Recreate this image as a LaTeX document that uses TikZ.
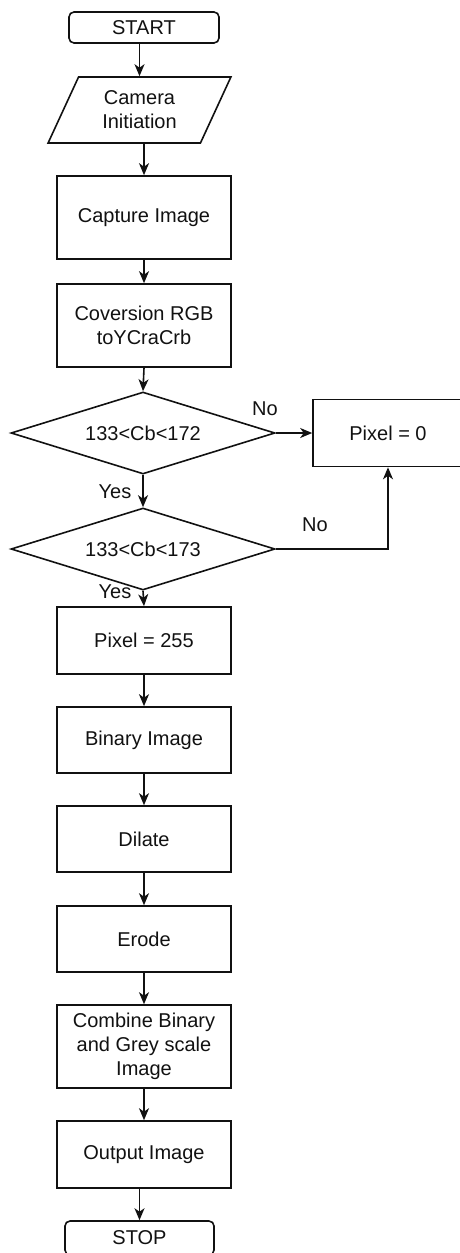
\documentclass[tikz,border=0pt]{standalone}
\usepackage{fontspec}
\setmainfont{Liberation Sans}
\usetikzlibrary{shapes.geometric,arrows.meta}
\definecolor{flowink}{RGB}{17,17,17}

\begin{document}
\begin{tikzpicture}[x=1pt,y=-1pt,>={Stealth[length=12pt,width=10pt,inset=3.5pt]},
  font=\fontsize{20}{24}\selectfont,line width=1.6pt,draw=flowink,text=flowink,
  termbox/.style={draw,rectangle,rounded corners=5pt,minimum width=150pt,minimum height=31pt,inner sep=0pt},
  iobox/.style={draw,trapezium,trapezium left angle=64,trapezium right angle=116,
    trapezium stretches=true,minimum width=183pt,minimum height=66pt,inner sep=0pt,align=center},
  procbox/.style={draw,rectangle,minimum width=174pt,inner sep=0pt,align=center},
  decbox/.style={draw,diamond,aspect=3.2,minimum width=264pt,minimum height=82pt,inner sep=0pt}]
 \useasboundingbox (0,0) rectangle (460,1253);
 % main column
 \node[termbox] (start) at (144,27.5) {START};
 \node[iobox] (cam) at (139.5,110) {Camera\\Initiation};
 \node[procbox,minimum height=83pt] (capture) at (144,217.5) {Capture Image};
 \node[procbox,minimum height=83pt] (conv) at (144,325.5) {Coversion RGB\\toYCraCrb};
 \node[decbox] (dec1) at (143,433) {133<Cb<172};
 \node[procbox,minimum width=150pt,minimum height=67pt] (pix0) at (388,433) {Pixel = 0};
 \node[decbox] (dec2) at (143,549) {133<Cb<173};
 \node[procbox,minimum height=67pt] (pix255) at (144,640.5) {Pixel = 255};
 \node[procbox,minimum height=66pt] (binary) at (144,740) {Binary Image};
 \node[procbox,minimum height=66pt] (dilate) at (144,839) {Dilate};
 \node[procbox,minimum height=66pt] (erode) at (144,939) {Erode};
 \node[procbox,minimum height=83pt] (combine) at (144,1046.5) {Combine Binary\\and Grey scale\\Image};
 \node[procbox,minimum height=67pt] (output) at (144,1154.5) {Output Image};
 \node[termbox,minimum width=149pt,minimum height=34pt] (stop) at (139.5,1238) {STOP};
 % labels
 \node (no1) at (265,409) {No};
 \node (no2) at (315,525) {No};
 \node (yes1) at (115,492) {Yes};
 \node (yes2) at (115,592) {Yes};
 % connectors
 \draw[->] (start.south -| cam.north) -- (cam.north);
 \draw[->] (cam.south -| capture.north) -- (capture.north);
 \foreach \a/\b in {capture/conv,conv/dec1,dec1/dec2,dec2/pix255,pix255/binary,
   binary/dilate,dilate/erode,erode/combine,combine/output}
   {\draw[->] (\a.south) -- (\b.north);}
 \draw[->] (output.south -| stop.north) -- (stop.north);
 \draw[->] (dec1.east) -- (pix0.west);
 \draw[->] (dec2.east) -| (pix0.south);
\end{tikzpicture}
\end{document}
